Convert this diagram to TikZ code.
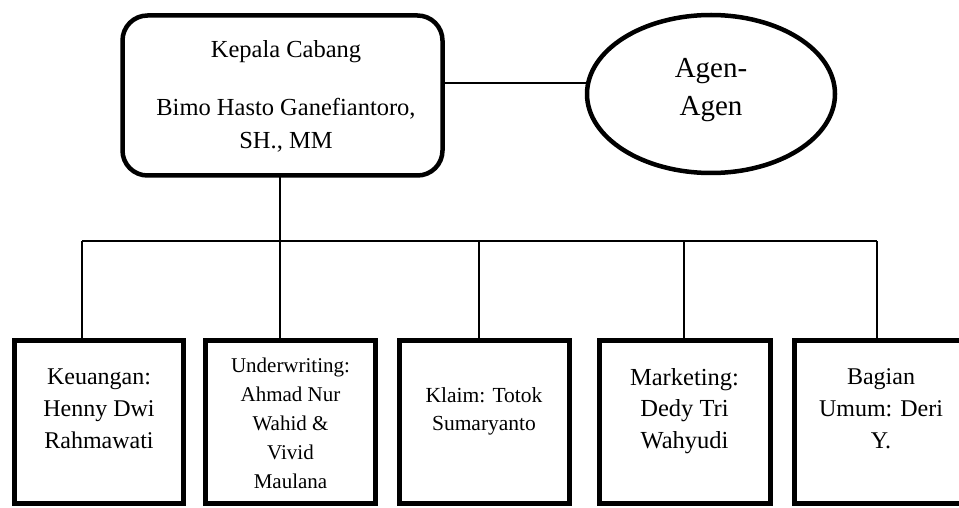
\documentclass[tikz,border=0pt]{standalone}
\usepackage{fontspec}
\setmainfont{Liberation Serif}
\usetikzlibrary{shapes.geometric}
\begin{document}
\begin{tikzpicture}[x=1pt,y=-1pt,
  thickbox/.style={draw, line width=4.5pt, inner sep=0pt, outer sep=0pt},
  unitbox/.style={thickbox, rectangle, minimum height=163pt},
  conn/.style={line width=2pt},
  lbl/.style={inner sep=0pt, outer sep=0pt, align=center, anchor=north}]
\useasboundingbox (0,0) rectangle (959,508);
% top
\node[thickbox, rectangle, rounded corners=25pt, minimum width=320pt, minimum height=160pt] (kc) at (282.5,95.5) {};
\node[lbl, font=\fontsize{24.5}{33}\selectfont] (kct) at (286,41) {Kepala Cabang\\[25pt]Bimo Hasto Ganefiantoro,\\SH., MM};
\node[thickbox, ellipse, minimum width=248pt, minimum height=158pt] (ag) at (711,94) {};
\node[lbl, font=\fontsize{29}{38}\selectfont] (agt) at (711,58) {Agen-\\Agen};
% units
\node[unitbox, minimum width=169pt] (b1) at (99,422) {};
\node[unitbox, minimum width=170pt] (b2) at (290.5,422) {};
\node[unitbox, minimum width=170pt] (b3) at (484.5,422) {};
\node[unitbox, minimum width=171pt] (b4) at (685,422) {};
\node[unitbox, minimum width=172.5pt] (b5) at (880.75,422) {};
\node[lbl, font=\fontsize{24}{32}\selectfont] (b1t) at (99,369) {Keuangan:\\Henny Dwi\\Rahmawati};
\node[lbl, font=\fontsize{21}{29}\selectfont] (b2t) at (290.5,358) {Underwriting:\\Ahmad Nur\\Wahid \&\\Vivid\\Maulana};
\node[lbl, font=\fontsize{21.5}{28}\selectfont] (b3t) at (484,388) {Klaim: Totok\\Sumaryanto};
\node[lbl, font=\fontsize{24.5}{31.5}\selectfont] (b4t) at (684.5,368) {Marketing:\\Dedy Tri\\Wahyudi};
\node[lbl, font=\fontsize{24}{32}\selectfont] (b5t) at (881,369) {Bagian\\Umum: Deri\\Y.};
% connectors
\draw[conn] (ag.175) -- (ag.175 -| kc.east);
\coordinate (d1) at (82,241);
\coordinate (d2) at (280,241);
\coordinate (d3) at (479,241);
\coordinate (d4) at (684,241);
\coordinate (d5) at (877,241);
\draw[conn] (kc.south -| d2) -- (d2);
\draw[conn] (d1) -- (d5);
\draw[conn] (d1) -- (d1 |- b1.north);
\draw[conn] (d2) -- (d2 |- b2.north);
\draw[conn] (d3) -- (d3 |- b3.north);
\draw[conn] (d4) -- (d4 |- b4.north);
\draw[conn] (d5) -- (d5 |- b5.north);
\end{tikzpicture}
\end{document}
